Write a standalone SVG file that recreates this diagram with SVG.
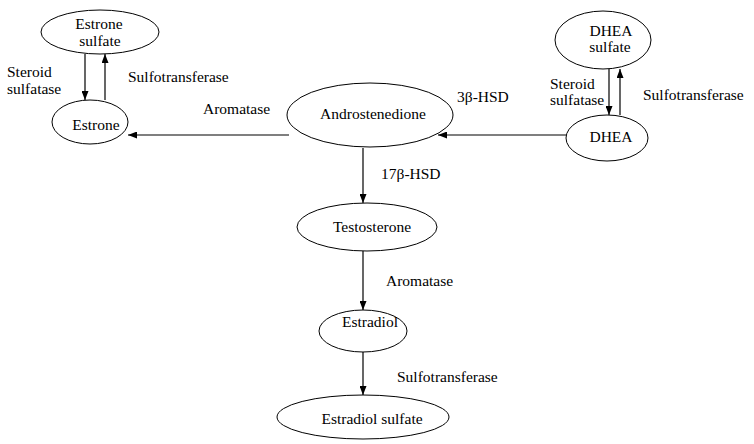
<svg xmlns="http://www.w3.org/2000/svg" width="754" height="444" viewBox="0 0 754 444">
<style>
text{font-family:"Liberation Serif","DejaVu Serif","Times New Roman",serif;font-size:15.5px;fill:#000}
.n{text-anchor:middle}
ellipse{fill:#fff;stroke:#000;stroke-width:1}
.c line{stroke:#000;stroke-width:1.2;marker-end:url(#ah)}
</style>
<defs>
<marker id="ah" markerWidth="9" markerHeight="7" refX="9" refY="3.5" orient="auto" markerUnits="userSpaceOnUse">
<path d="M0,0 L9,3.5 L0,7 z" fill="#000"/>
</marker>
</defs>
<rect width="754" height="444" fill="#fff"/>
<g class="c" id="connectors">
<line x1="85" y1="54" x2="85" y2="100"/>
<line x1="105" y1="100" x2="105" y2="54"/>
<line x1="289" y1="135" x2="128" y2="135"/>
<line x1="566" y1="135" x2="438" y2="135"/>
<line x1="609" y1="69" x2="609" y2="115"/>
<line x1="620" y1="115" x2="620" y2="69"/>
<line x1="363" y1="148" x2="363" y2="203"/>
<line x1="363" y1="251" x2="363" y2="310"/>
<line x1="363" y1="352" x2="363" y2="395"/>
</g>
<g id="labels">
<text x="7" y="77">Steroid</text>
<text x="7" y="94">sulfatase</text>
<text x="128" y="82">Sulfotransferase</text>
<text x="203" y="114">Aromatase</text>
<text x="457" y="102">3β-HSD</text>
<text x="550" y="89">Steroid</text>
<text x="550" y="105">sulfatase</text>
<text x="643" y="100">Sulfotransferase</text>
<text x="381" y="179">17β-HSD</text>
<text x="386" y="286">Aromatase</text>
<text x="397" y="382">Sulfotransferase</text>
</g>
<g id="estrone-sulfate">
<ellipse cx="100" cy="32" rx="59" ry="22"/>
<text class="n" x="99" y="29">Estrone</text>
<text class="n" x="100" y="46">sulfate</text>
</g>
<g id="estrone">
<ellipse cx="90" cy="122" rx="38" ry="22"/>
<text class="n" x="96" y="130">Estrone</text>
</g>
<g id="androstenedione">
<ellipse cx="370" cy="115" rx="83" ry="32"/>
<text class="n" x="373" y="119">Androstenedione</text>
</g>
<g id="dhea-sulfate">
<ellipse cx="603" cy="40" rx="48" ry="29"/>
<text class="n" x="611" y="36">DHEA</text>
<text class="n" x="610" y="52">sulfate</text>
</g>
<g id="dhea">
<ellipse cx="607" cy="138" rx="41" ry="23"/>
<text class="n" x="611" y="142">DHEA</text>
</g>
<g id="testosterone">
<ellipse cx="367" cy="227" rx="70" ry="24"/>
<text class="n" x="372" y="232">Testosterone</text>
</g>
<g id="estradiol">
<ellipse cx="363" cy="331" rx="44" ry="21"/>
<text class="n" x="370" y="327">Estradiol</text>
</g>
<g id="estradiol-sulfate">
<ellipse cx="363" cy="417" rx="86" ry="22"/>
<text class="n" x="372" y="424">Estradiol sulfate</text>
</g>
</svg>
